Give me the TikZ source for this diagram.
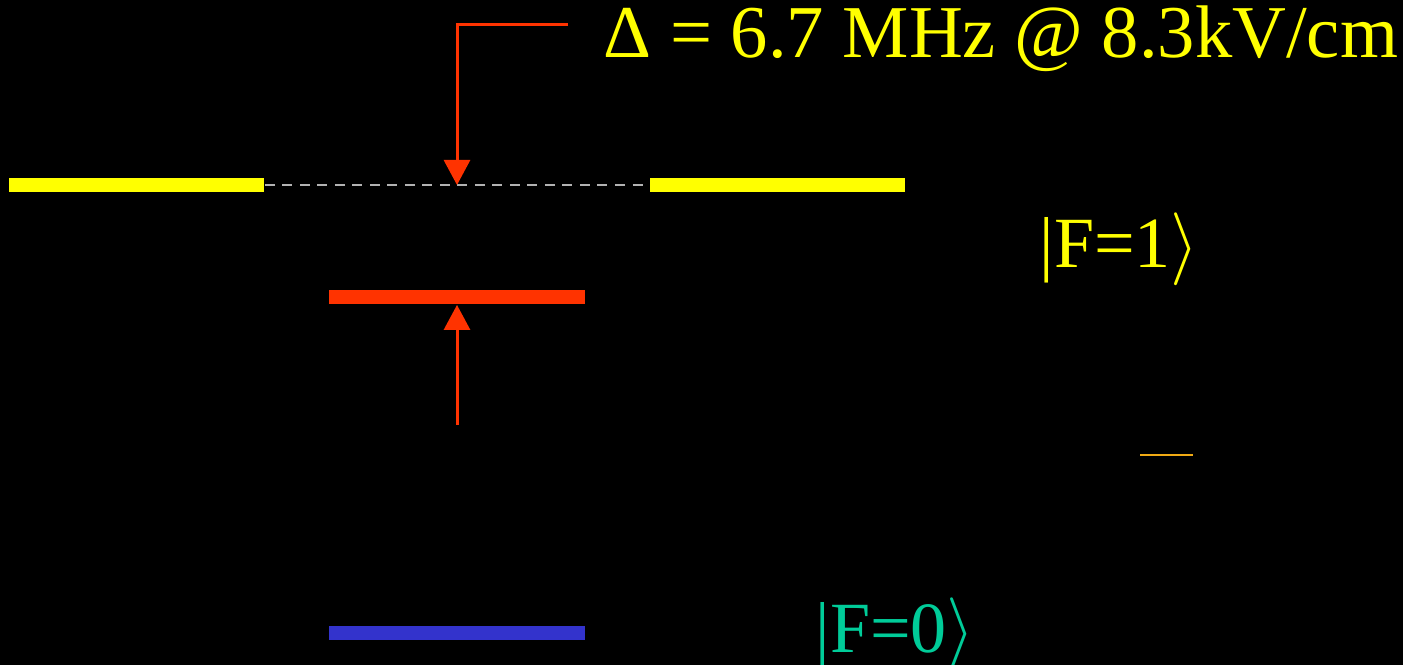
\documentclass[tikz,border=0pt]{standalone}
\usepackage{fontspec}
\setmainfont{Liberation Serif}
\usepackage{xcolor}
\usetikzlibrary{arrows.meta, positioning, calc}

\definecolor{levelyellow}{RGB}{255,255,0}
\definecolor{levelred}{RGB}{255,51,0}
\definecolor{levelblue}{RGB}{51,51,204}
\definecolor{labelteal}{RGB}{0,204,153}
\definecolor{tickorange}{RGB}{240,170,20}

\begin{document}
\begin{tikzpicture}[
        x=0.01cm, y=-0.01cm,
        level/.style={rectangle, inner sep=0pt, minimum width=2.55cm, minimum height=0.145cm},
        shiftarrow/.style={levelred, line width=0.03cm, -{Triangle[length=0.25cm, width=0.26cm]}},
        guide/.style={gray!60!white, line width=0.025cm, dash pattern=on 0.1cm off 0.075cm},
        statelabel/.style={anchor=base west, inner sep=0pt, font={\fontsize{20.5}{24}\selectfont}}
    ]
        % Background
        \fill[black] (0,0) rectangle (1403,665);
        \useasboundingbox (0,0) rectangle (1403,665);

        % Levels
        \node (yellowL) [level, fill=levelyellow] at (136.5,185) {};
        \node (yellowR) [level, fill=levelyellow] at (777.5,185) {};
        \node (redlevel) [level, fill=levelred] at (457,297) {};
        \node (bluelevel) [level, fill=levelblue] at (457,633) {};

        % Unshifted position
        \draw [guide] (yellowL.east) -- coordinate[midway] (unshifted) (yellowR.west);

        % Shift arrows
        \coordinate (deltaStart) at (568,25);
        \coordinate (shiftStart) at (457,425);
        \draw [shiftarrow] (deltaStart) -| (unshifted);
        \draw [shiftarrow] (shiftStart) -- (redlevel.south);

        % Labels
        \node (delta) [anchor=base west, inner sep=0pt, text=levelyellow, font={\fontsize{21.2}{25}\selectfont}] at (603,58) {Δ = 6.7 MHz @ 8.3kV/cm};
        \node (fone) [statelabel, text=levelyellow] at (1039,268) {|F=1$\rangle$};
        \node (fzero) [statelabel, text=labelteal] at (815,653) {|F=0$\rangle$};

        % Small tick
        \draw [tickorange, line width=0.015cm] (1140,455) -- (1193,455);
    \end{tikzpicture}
\end{document}
